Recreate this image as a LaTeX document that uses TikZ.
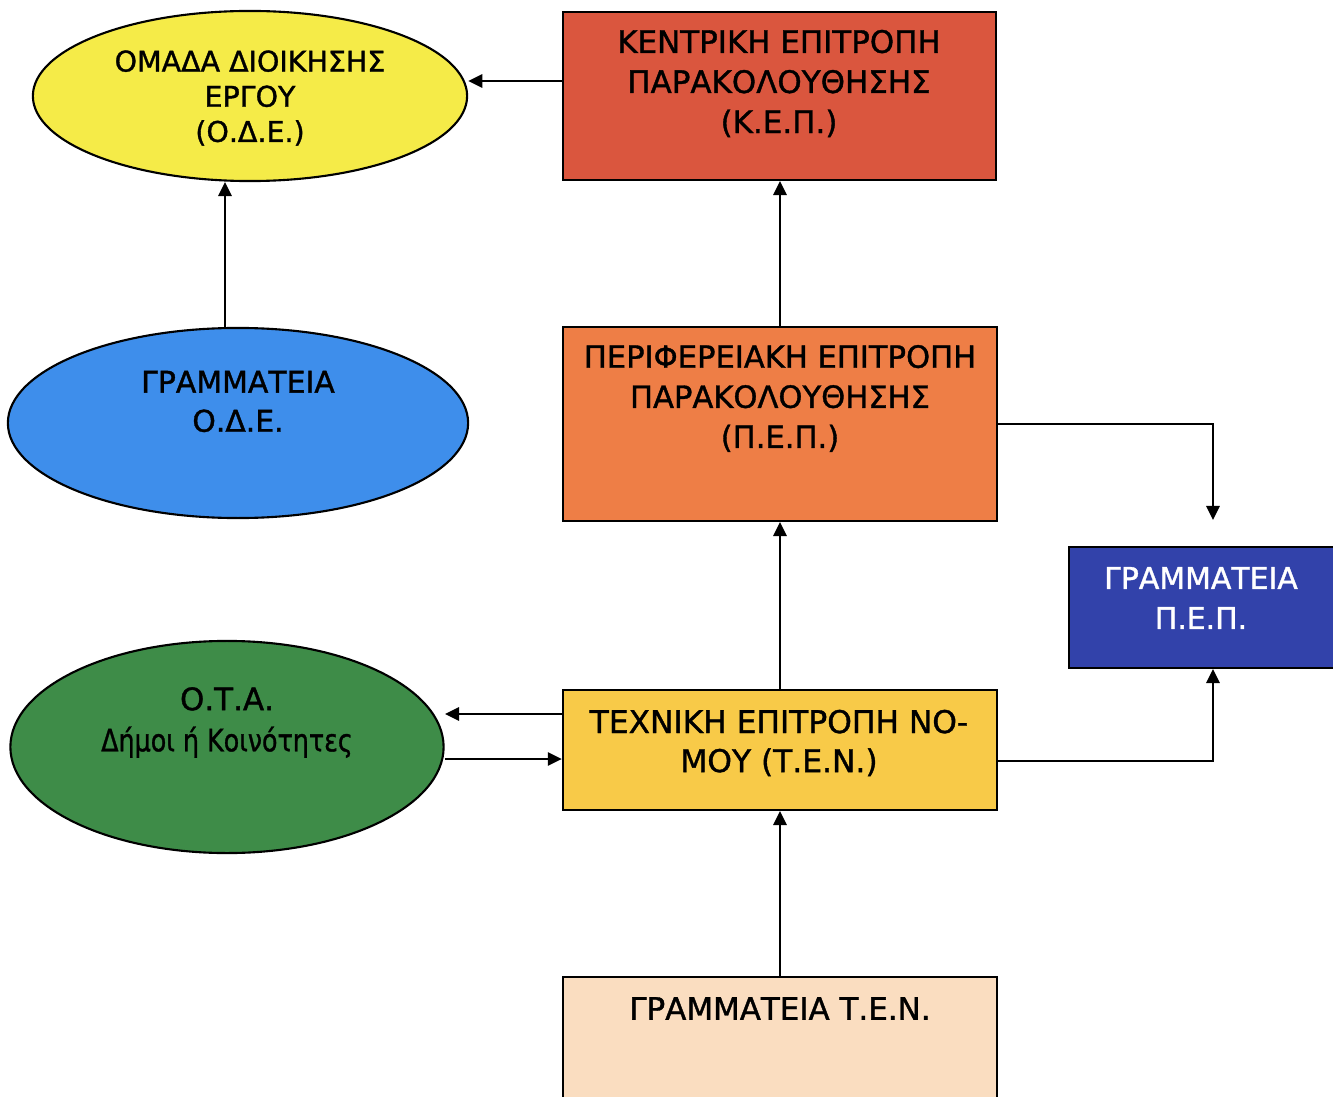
\documentclass[tikz,border=0pt]{standalone}
\usepackage{fontspec}
\setmainfont[FakeBold=1.2]{DejaVu Sans}
\usetikzlibrary{shapes.geometric,arrows.meta}
\definecolor{cYel}{RGB}{245,235,72}
\definecolor{cRed}{RGB}{218,86,62}
\definecolor{cBlu}{RGB}{62,142,235}
\definecolor{cOra}{RGB}{238,126,70}
\definecolor{cDBl}{RGB}{50,66,170}
\definecolor{cGrn}{RGB}{62,140,72}
\definecolor{cTen}{RGB}{248,202,72}
\definecolor{cPea}{RGB}{250,221,192}
\begin{document}
\begin{tikzpicture}[x=0.01cm,y=-0.01cm,
  box/.style={draw=black,line width=0.6pt,rectangle,inner sep=0pt},
  oval/.style={draw=black,line width=0.6pt,ellipse,inner sep=0pt},
  lbl/.style={align=center,inner sep=0pt},
  arr/.style={-{Triangle[length=4pt,width=3.8pt]},line width=0.6pt}]
\useasboundingbox (0,0) rectangle (1333,1097);
\clip (0,0) rectangle (1333,1097);
\fill[white] (0,0) rectangle (1333,1097);
% shapes
\node[oval,fill=cYel,minimum width=4.34cm,minimum height=1.70cm] (ode) at (250,96) {};
\node[box,fill=cRed,minimum width=4.33cm,minimum height=1.68cm] (kep) at (779.5,96) {};
\node[oval,fill=cBlu,minimum width=4.60cm,minimum height=1.90cm] (gode) at (238,423) {};
\node[box,fill=cOra,minimum width=4.34cm,minimum height=1.94cm] (pep) at (780,424) {};
\node[box,fill=cDBl,minimum width=2.72cm,minimum height=1.21cm] (gpep) at (1205,607.5) {};
\node[oval,fill=cGrn,minimum width=4.33cm,minimum height=2.12cm] (ota) at (227,747) {};
\node[box,fill=cTen,minimum width=4.34cm,minimum height=1.20cm] (ten) at (780,750) {};
\node[box,fill=cPea,minimum width=4.34cm,minimum height=1.40cm] (gten) at (780,1047) {};
% labels
\node[lbl,font=\fontsize{8.1}{10}\selectfont] (odeT) at (250,98) {ΟΜΑΔΑ ΔΙΟΙΚΗΣΗΣ\\ΕΡΓΟΥ\\(Ο.Δ.Ε.)};
\node[lbl,font=\fontsize{8.8}{11.4}\selectfont] (kepT) at (779,83.5) {ΚΕΝΤΡΙΚΗ ΕΠΙΤΡΟΠΗ\\ΠΑΡΑΚΟΛΟΥΘΗΣΗΣ\\(Κ.Ε.Π.)};
\node[lbl,font=\fontsize{8.5}{11.1}\selectfont] (godeT) at (238,401.5) {ΓΡΑΜΜΑΤΕΙΑ\\Ο.Δ.Ε.};
\node[lbl,font=\fontsize{8.7}{11.4}\selectfont] (pepT) at (780,398.5) {ΠΕΡΙΦΕΡΕΙΑΚΗ ΕΠΙΤΡΟΠΗ\\ΠΑΡΑΚΟΛΟΥΘΗΣΗΣ\\(Π.Ε.Π.)};
\node[lbl,font=\fontsize{8.5}{11.4}\selectfont,text=white] (gpepT) at (1201,598) {ΓΡΑΜΜΑΤΕΙΑ\\Π.Ε.Π.};
\node[lbl,font=\fontsize{8.8}{11.7}\selectfont] (otaT) at (227,722.5) {Ο.Τ.Α.\\\scalebox{0.82}[1]{Δήμοι ή Κοινότητες}};
\node[lbl,font=\fontsize{8.9}{11.1}\selectfont] (tenT) at (779,743) {ΤΕΧΝΙΚΗ ΕΠΙΤΡΟΠΗ ΝΟ-\\ΜΟΥ (Τ.Ε.Ν.)};
\node[lbl,font=\fontsize{8.8}{11.4}\selectfont] (gtenT) at (780,1008.5) {ΓΡΑΜΜΑΤΕΙΑ Τ.Ε.Ν.};
% connector helpers
\coordinate (c1) at (1213,520);
\coordinate (c2) at (445,714);
% connectors
\draw[arr] ([yshift=0.15cm]kep.west) -- ([yshift=0.15cm]kep.west -| ode.east);
\draw[arr] ([xshift=-0.13cm]gode.north) -- ([xshift=-0.13cm]gode.north |- ode.south);
\draw[arr] (pep.north) -- (pep.north |- kep.south);
\draw[arr] (pep.east) -| (c1);
\draw[arr] (ten.north) -- (ten.north |- pep.south);
\draw[arr] (ten.west |- c2) -- (c2);
\draw[arr] ([yshift=-0.12cm]ota.east) -- ([yshift=-0.12cm]ota.east -| ten.west);
\draw[arr] ([yshift=-0.11cm]ten.east) -| (c1 |- gpep.south);
\draw[arr] (gten.north) -- (gten.north |- ten.south);
\end{tikzpicture}
\end{document}
